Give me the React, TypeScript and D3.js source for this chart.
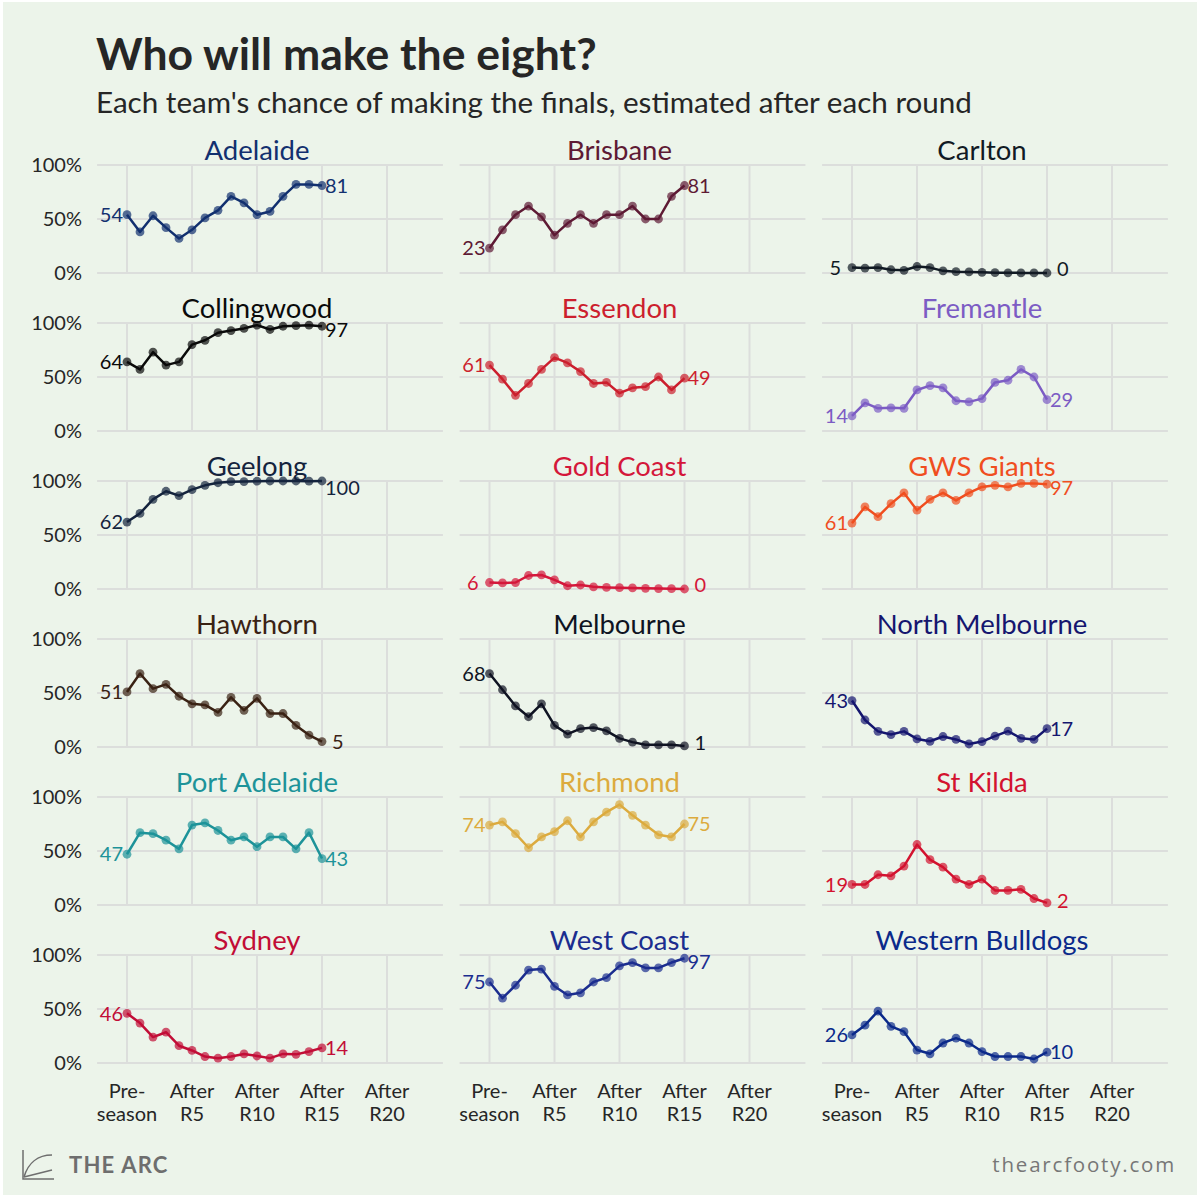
import React from "react";
import * as d3 from "d3";

// ---------- DATA ----------
const teams = [
  "Adelaide", "Brisbane", "Carlton",
  "Collingwood", "Essendon", "Fremantle",
  "Geelong", "Gold Coast", "GWS Giants",
  "Hawthorn", "Melbourne", "North Melbourne",
  "Port Adelaide", "Richmond", "St Kilda",
  "Sydney", "West Coast", "Western Bulldogs",
];

const teamColors = [
  "#12306f", "#5e1a34", "#111a24",
  "#0a0a0a", "#cc1f2e", "#7c5cc4",
  "#14233d", "#d4173a", "#f04e1f",
  "#3a2214", "#0f1322", "#15166f",
  "#1d9399", "#dcab3e", "#d3122f",
  "#c20d36", "#1b2d8f", "#0b2a8a",
];

// Probability (%) of making the finals: pre-season, then after R1..R15
const adelaide = [54, 38, 53, 42, 32, 40, 51, 58, 71, 65, 54, 57, 71, 82, 82, 81];
const brisbane = [23, 40, 54, 62, 52, 35, 46, 54, 46, 54, 54, 62, 50, 50, 71, 81];
const carlton = [5, 4.6, 5, 3, 2.5, 6, 5, 2, 1.2, 1, 0.6, 0.3, 0.2, 0.1, 0.1, 0];
const collingwood = [64, 57, 73, 61, 64, 80, 84, 91, 93, 95, 98, 94, 97, 97.5, 98, 97];
const essendon = [61, 48, 33, 44, 57, 68, 63, 55, 44, 45, 35, 40, 41, 50, 38, 49];
const fremantle = [14, 26, 21, 21.5, 21, 38, 42, 40, 28, 27, 30, 45, 47, 57, 50, 29];
const geelong = [62, 70, 83, 90.5, 86.5, 92, 96, 98.4, 99.4, 99.5, 99.8, 100, 100, 100, 99.8, 100];
const goldCoast = [6, 5.6, 6, 12.5, 13, 8.4, 3, 3.7, 2, 1.5, 1.2, 1, 0.6, 0.4, 0.3, 0];
const gws = [61, 76, 67, 79, 89, 73, 83, 89, 82, 89, 94.5, 96, 94.5, 97.8, 97.8, 97];
const hawthorn = [51, 68, 54, 58, 47, 40, 39, 32, 46, 34, 45, 31, 31, 20, 11, 5];
const melbourne = [68, 53, 38, 28, 40, 20, 12, 17, 18, 15, 8, 4.5, 2, 2, 2, 1];
const northMelbourne = [43, 25, 14.5, 11.5, 14.5, 7.5, 5.3, 9.7, 7, 2.8, 5, 10, 14.7, 8, 7, 17];
const portAdelaide = [47, 67, 66, 60, 52, 74, 76, 69, 60, 63, 54, 63, 63, 52, 67, 43];
const richmond = [74, 77, 66, 53, 63, 68, 78, 63, 77, 86, 93, 83, 74, 65, 63, 75];
const stKilda = [19, 19, 28, 27, 36, 56, 42, 35, 24, 19, 24, 13.5, 13.5, 14.5, 6, 2];
const sydney = [46, 37, 24, 28.5, 16, 11.6, 6, 4.5, 6, 8.4, 6.5, 4.5, 8.4, 8, 10.6, 14];
const westCoast = [75, 60, 72, 86, 87, 71, 63, 65, 75, 79, 90, 93, 88, 88, 93, 97];
const westernBulldogs = [26, 35, 48, 34, 29, 12, 8.5, 18.5, 23, 18.5, 10.6, 6, 6, 6, 3.7, 10];

const series = [
  adelaide, brisbane, carlton,
  collingwood, essendon, fremantle,
  geelong, goldCoast, gws,
  hawthorn, melbourne, northMelbourne,
  portAdelaide, richmond, stKilda,
  sydney, westCoast, westernBulldogs,
];

const xTickValues = [0, 5, 10, 15, 20];
const xTickTop = ["Pre-", "After", "After", "After", "After"];
const xTickBottom = ["season", "R5", "R10", "R15", "R20"];
const yTickValues = [0, 50, 100];
const yTickLabels = ["0%", "50%", "100%"];

const titleText = "Who will make the eight?";
const subtitleText = "Each team's chance of making the finals, estimated after each round";

// ---------- LAYOUT ----------
const BG = "#ecf4ea";
const GRID = "#dcdedc";
const TEXT = "#262626";
const FONT = "Lato, 'Open Sans', sans-serif";

const colX0 = [127, 489.5, 852];
const rowY0 = [273, 431, 589, 747, 905, 1063];
const PANEL_H = 108;
const PANEL_W20 = 260;
const TICK_FS = 20;
const LABEL_FS = 20;

function Panel({ idx }: { idx: number }) {
  const col = idx % 3;
  const row = Math.floor(idx / 3);
  const values = series[idx];
  const color = teamColors[idx];
  const x = d3.scaleLinear().domain([0, 20]).range([colX0[col], colX0[col] + PANEL_W20]);
  const y = d3.scaleLinear().domain([0, 100]).range([rowY0[row], rowY0[row] - PANEL_H]);
  const left = x(-2.3);
  const right = x(24.3);
  const line = d3
    .line<number>()
    .x((_, i) => x(i))
    .y((d) => y(d));
  const last = values.length - 1;
  const clampY = (v: number) => y(Math.max(4, Math.min(93.5, v)));
  const isBottom = row === 5;
  const first = Math.round(values[0]);
  const end = Math.round(values[last]);
  const pad = (n: number) => (n < 10 ? 7 : 0);
  return (
    <g>
      {yTickValues.map((t) => (
        <line key={"h" + t} x1={left} x2={right} y1={y(t)} y2={y(t)} stroke={GRID} strokeWidth={2} />
      ))}
      {xTickValues.map((t) => (
        <line key={"v" + t} x1={x(t)} x2={x(t)} y1={y(0)} y2={y(100)} stroke={GRID} strokeWidth={2} />
      ))}
      {col === 0 &&
        yTickValues.map((t, i) => (
          <text key={"yl" + t} x={82} y={y(t)} dy="0.36em" textAnchor="end" fontSize={TICK_FS} fill={TEXT} fontFamily={FONT}>
            {yTickLabels[i]}
          </text>
        ))}
      {isBottom &&
        xTickValues.map((t, i) => (
          <g key={"xl" + t}>
            <text x={x(t)} y={1098} textAnchor="middle" fontSize={TICK_FS} fill={TEXT} fontFamily={FONT}>
              {xTickTop[i]}
            </text>
            <text x={x(t)} y={1121} textAnchor="middle" fontSize={TICK_FS} fill={TEXT} fontFamily={FONT}>
              {xTickBottom[i]}
            </text>
          </g>
        ))}
      <text x={x(10)} y={rowY0[row] - 113} textAnchor="middle" fontSize={27.5} fill={color} fontFamily={FONT}>
        {teams[idx]}
      </text>
      <path d={line(values) || ""} fill="none" stroke={color} strokeWidth={2.5} strokeLinejoin="round" />
      {values.map((v, i) => (
        <circle key={i} cx={x(i)} cy={y(v)} r={4.4} fill={color} fillOpacity={0.7} />
      ))}
      <text x={x(0) - 4 - pad(first)} y={clampY(values[0])} dy="0.36em" textAnchor="end" fontSize={LABEL_FS} fill={color} fontFamily={FONT}>
        {first}
      </text>
      <text x={x(last) + 3 + pad(end)} y={clampY(values[last])} dy="0.36em" textAnchor="start" fontSize={LABEL_FS} fill={color} fontFamily={FONT}>
        {end}
      </text>
    </g>
  );
}

export default function App() {
  return (
    <svg
      width={1200}
      height={1200}
      viewBox="0 0 1200 1200"
      style={{ position: "absolute", left: 0, top: 0, display: "block" }}
    >
      <rect x={0} y={0} width={1200} height={1200} fill="#ffffff" />
      <rect x={3} y={2} width={1194} height={1193} fill={BG} />
      <text x={96} y={70} fontSize={44.5} fontWeight={700} fill={TEXT} fontFamily={FONT}>
        {titleText}
      </text>
      <text x={96} y={113} fontSize={29.6} fill={TEXT} fontFamily={FONT}>
        {subtitleText}
      </text>
      {teams.map((_, i) => (
        <Panel key={i} idx={i} />
      ))}
      {/* footer */}
      <g stroke="#6e6e6e" strokeWidth={1.5} fill="none">
        <path d="M23,1150 L23,1179 L54,1179" />
        <path d="M24,1177 C28,1163 38,1155 52,1155" />
        <path d="M24,1177 L52,1170" />
      </g>
      <text x={69} y={1173} fontSize={22} fontWeight={700} fill="#6e6e6e" fontFamily={FONT} letterSpacing={1.2}>
        THE ARC
      </text>
      <text x={1176} y={1172} fontSize={20.5} fill="#777777" fontFamily="'Open Sans', sans-serif" textAnchor="end" letterSpacing={1.8}>
        thearcfooty.com
      </text>
    </svg>
  );
}
